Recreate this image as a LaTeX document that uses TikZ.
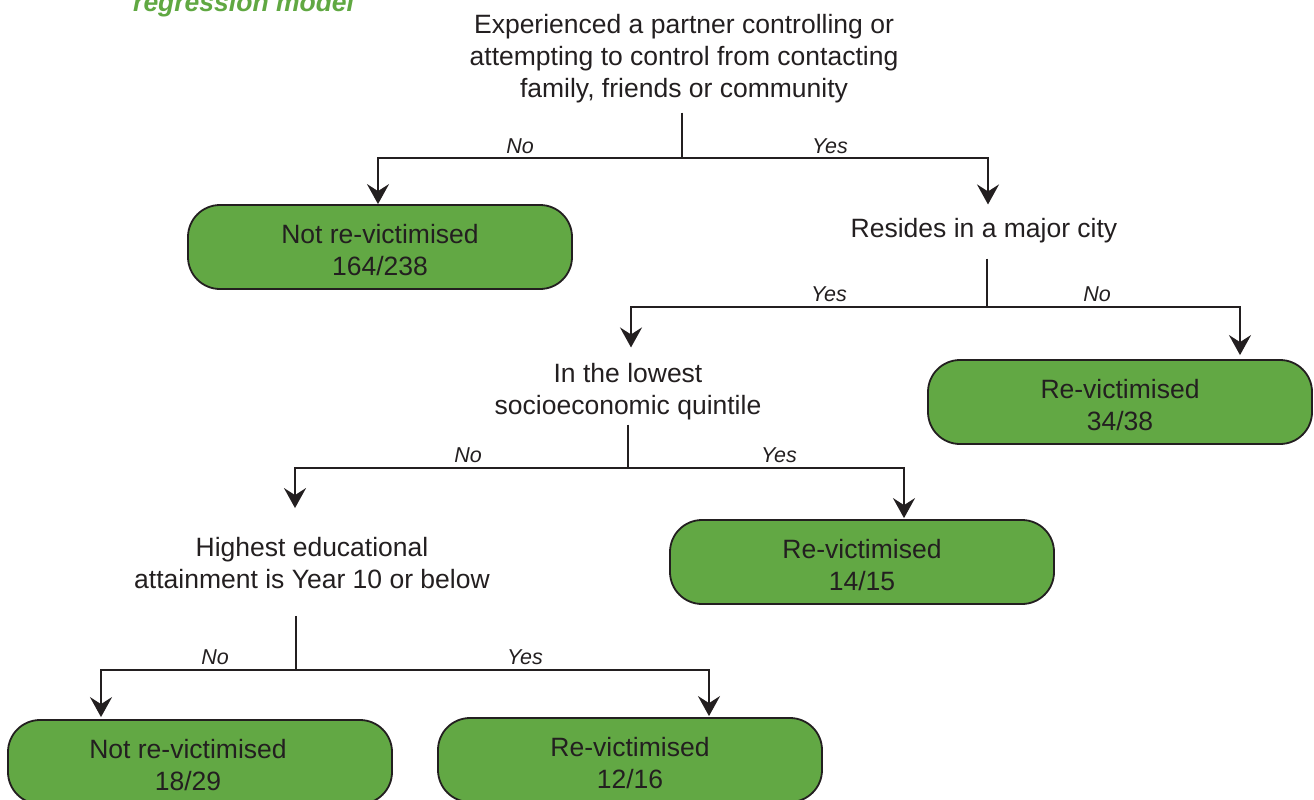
\documentclass[tikz,border=0pt]{standalone}
\usepackage{fontspec}
\setmainfont{Liberation Sans}
\usetikzlibrary{arrows.meta}
\definecolor{boxg}{RGB}{98,168,68}
\definecolor{titleg}{RGB}{96,168,66}
\definecolor{ink}{RGB}{35,31,32}
\newcommand\leafstrut{\rule{0pt}{25.5pt}}
\tikzset{
  txt/.style={text=ink, font=\fontsize{26.5}{32}\selectfont, align=center, inner xsep=0pt, inner ysep=10pt},
  leaf/.style={txt, draw=ink, line width=1.8pt, fill=boxg, rounded corners=32pt, minimum width=384pt, minimum height=84pt, inner ysep=0pt},
  lab/.style={text=ink, font=\fontsize{21.5}{24}\selectfont\itshape, inner sep=0pt},
  conn/.style={draw=ink, line width=2.4pt},
  arr/.style={conn, -{Stealth[length=20pt,width=22pt,inset=7pt]}},
}
\begin{document}
\begin{tikzpicture}[x=1pt,y=-1pt]
\useasboundingbox (0,0) rectangle (1314,800);
\node[anchor=base west, text=titleg, font=\fontsize{26.5}{30}\selectfont\bfseries\itshape, inner sep=0pt] (title) at (133,12) {regression model};

% decision nodes
\node[txt] (d1) at (684,59) {Experienced a partner controlling or\\attempting to control from contacting\\family, friends or community};
\node[txt] (d2) at (984,231) {Resides in a major city};
\node[txt] (d3) at (628,392) {In the lowest\\socioeconomic quintile};
\node[txt] (d4) at (312,563) {Highest educational\\attainment is Year 10 or below};

% leaves
\node[leaf] (l1) at (380,247) {\leafstrut Not re-victimised\\164/238};
\node[leaf] (l2) at (1120,402) {\leafstrut Re-victimised\\34/38};
\node[leaf] (l3) at (862,562) {\leafstrut Re-victimised\\14/15};
\node[leaf] (l4) at (200,762) {\leafstrut Not re-victimised\hspace*{24pt}\\18/29\hspace*{24pt}};
\node[leaf] (l5) at (630,760) {\leafstrut Re-victimised\\12/16};

% junctions
\coordinate (j1) at (682,158);
\coordinate (j2) at (987,307);
\coordinate (j3) at (628,468);
\coordinate (j4) at (296,670);

% connectors
\draw[conn] ([xshift=-2pt,yshift=1pt]d1.south) -- (j1);
\draw[arr] (j1) -| ([xshift=-2pt]l1.north);
\draw[arr] (j1) -| ([xshift=4pt,yshift=4pt]d2.north);

\draw[conn] ([xshift=3pt]d2.south) ++(0,5) -- (j2);
\draw[arr] (j2) -| ([xshift=120pt,yshift=4pt]l2.north);
\draw[arr] (j2) -| ([xshift=3pt,yshift=6pt]d3.north);

\draw[conn] ([yshift=6pt]d3.south) -- (j3);
\draw[arr] (j3) -| ([xshift=42pt,yshift=1pt]l3.north);
\draw[arr] (j3) -| ([xshift=-17pt,yshift=19pt]d4.north);

\draw[conn] ([xshift=-16pt,yshift=-17pt]d4.south) -- (j4);
\draw[arr] (j4) -| ([xshift=-99pt,yshift=2pt]l4.north);
\draw[arr] (j4) -| ([xshift=79pt,yshift=1pt]l5.north);

% edge labels
\node[lab] (n1) at (520,146) {No};
\node[lab] (y1) at (830,146) {Yes};
\node[lab] (y2) at (829,294) {Yes};
\node[lab] (n2) at (1097,294) {No};
\node[lab] (n3) at (468,455) {No};
\node[lab] (y3) at (779,455) {Yes};
\node[lab] (n4) at (215,657) {No};
\node[lab] (y4) at (525,657) {Yes};
\end{tikzpicture}
\end{document}
